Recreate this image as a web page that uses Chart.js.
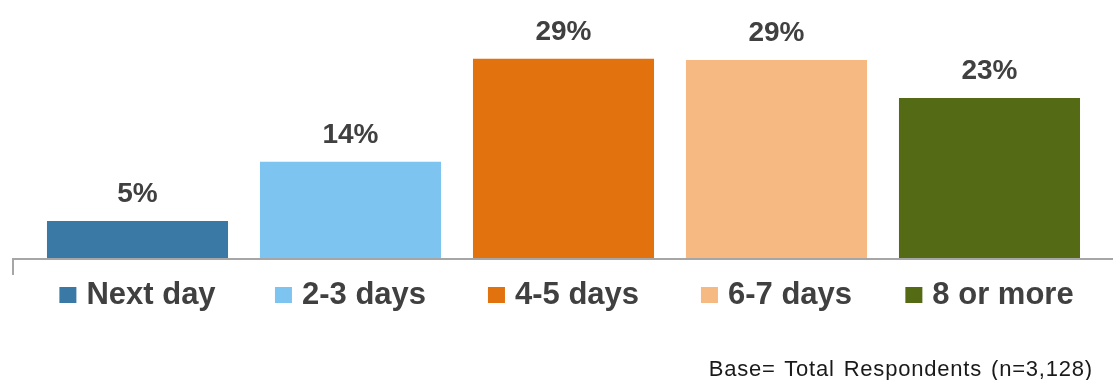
<!DOCTYPE html>
<html>
<head>
<meta charset="utf-8">
<script src="https://cdn.jsdelivr.net/npm/chart.js@4"></script>
<style>
    html, body { margin: 0; padding: 0; background: #fff; }
    .wrap { position: relative; width: 1113px; height: 380px; overflow: hidden; }
    #deliveryChart { position: absolute; left: 0; top: 0; }
    .base-note {
        position: absolute; right: 20px; top: 358px;
        font-family: "Liberation Sans", Arial, sans-serif; font-size: 22px; line-height: 22px;
        word-spacing: 2px; letter-spacing: 0.8px;
        color: #1a1a1a; white-space: nowrap;
    }
</style>
</head>
<body>
<div class="wrap">
    <canvas id="deliveryChart" width="1113" height="380"></canvas>
    <div class="base-note">Base= Total Respondents (n=3,128)</div>
</div>
<script>
// ─── DATA ───
const categories = ['Next day', '2-3 days', '4-5 days', '6-7 days', '8 or more'];
const shares = [5.4, 14.0, 29.0, 28.8, 23.3];
const barColors = ['#3A78A6', '#7DC5F0', '#E2720D', '#F7B982', '#556A15'];

const TEXT_COLOR = '#404040';
const FONT = '"Liberation Sans", Arial, sans-serif';

// ─── CUSTOM DRAWING: axis line, value labels, category legend ───
const decorPlugin = {
    id: 'decor',
    afterDatasetsDraw(chart) {
        const ctx = chart.ctx;
        const area = chart.chartArea;
        const meta = chart.getDatasetMeta(0);

        // baseline + left tick
        ctx.save();
        ctx.strokeStyle = '#A6A6A6';
        ctx.lineWidth = 2;
        ctx.beginPath();
        ctx.moveTo(13, 275);
        ctx.lineTo(13, area.bottom + 1);
        ctx.lineTo(1113, area.bottom + 1);
        ctx.stroke();

        // value labels
        ctx.fillStyle = TEXT_COLOR;
        ctx.font = `bold 28px ${FONT}`;
        ctx.textAlign = 'center';
        ctx.textBaseline = 'alphabetic';
        meta.data.forEach((bar, i) => {
            ctx.fillText(Math.round(shares[i]) + '%', bar.x, bar.y - 19);
        });

        // legend centred under each bar
        ctx.font = `bold 31px ${FONT}`;
        ctx.textAlign = 'left';
        meta.data.forEach((bar, i) => {
            const w = ctx.measureText(categories[i]).width;
            const total = 17 + 10 + w;
            const x0 = bar.x - total / 2;
            ctx.fillStyle = barColors[i];
            ctx.fillRect(x0, 287, 17, 16);
            ctx.fillStyle = TEXT_COLOR;
            ctx.fillText(categories[i], x0 + 27, 304);
        });
        ctx.restore();
    }
};

// ─── CHART ───
document.addEventListener('DOMContentLoaded', () => {
    const ctx = document.getElementById('deliveryChart').getContext('2d');
    new Chart(ctx, {
        type: 'bar',
        data: {
            labels: categories,
            datasets: [{
                data: shares,
                backgroundColor: barColors,
                borderWidth: 0,
                barPercentage: 0.85,
                categoryPercentage: 1.0
            }]
        },
        options: {
            responsive: false,
            animation: false,
            layout: { padding: { left: 31, right: 17, top: 17.5, bottom: 122 } },
            plugins: {
                legend: { display: false },
                tooltip: { enabled: false }
            },
            scales: {
                x: { display: false },
                y: { display: false, min: 0, max: 35 }
            }
        },
        plugins: [decorPlugin]
    });
});
</script>
</body>
</html>
